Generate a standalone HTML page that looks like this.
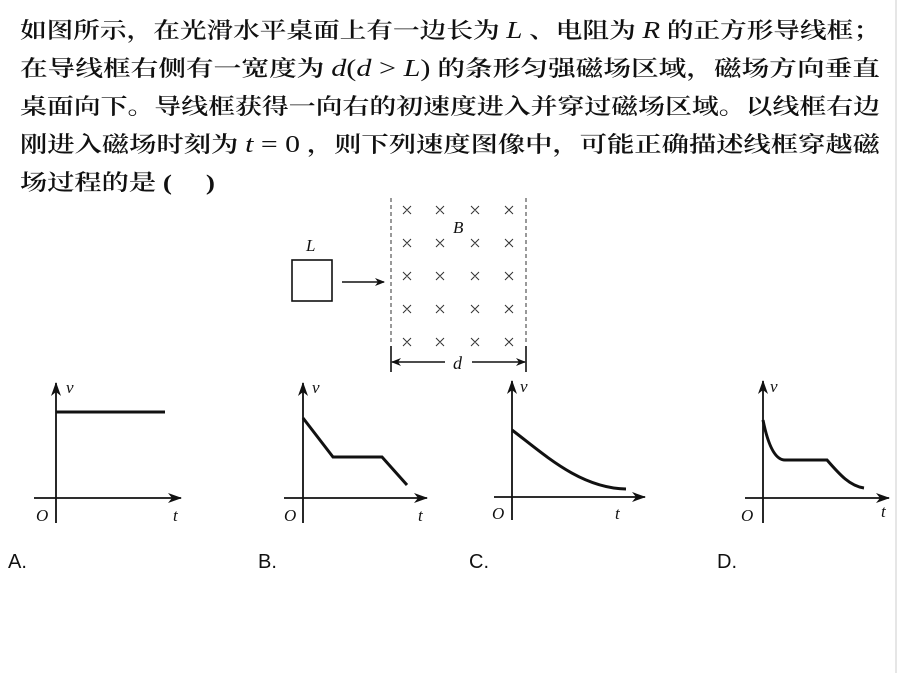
<!DOCTYPE html>
<html><head><meta charset="utf-8"><style>
html,body{margin:0;padding:0;background:#fff;}
svg{display:block;}
.cn{font-family:"Liberation Serif","Noto Serif CJK SC",serif;font-size:22px;font-weight:600;fill:#111;}
.it{font-family:"Liberation Serif",serif;font-style:italic;fill:#111;}
.lb{font-family:"Liberation Sans",sans-serif;font-size:20px;fill:#111;}
</style></head><body>
<svg width="898" height="673" viewBox="0 0 898 673" xmlns="http://www.w3.org/2000/svg">
<defs>
<marker id="ah" markerWidth="10" markerHeight="10" refX="9" refY="5" orient="auto" markerUnits="userSpaceOnUse">
<path d="M0,1 L10,5 L0,9 L3,5 Z" fill="#111"/></marker>
<marker id="ah2" markerWidth="14" markerHeight="12" refX="13" refY="6" orient="auto" markerUnits="userSpaceOnUse">
<path d="M0,1 L14,6 L0,11 L4,6 Z" fill="#111"/></marker>
</defs>
<line x1="896" y1="0" x2="896" y2="673" stroke="#ccc" stroke-width="1"/>
<text class="cn" x="20" y="38" textLength="860" lengthAdjust="spacingAndGlyphs">如图所示，在光滑水平桌面上有一边长为 <tspan class="it" font-weight="normal" font-size="24">L</tspan> 、电阻为 <tspan class="it" font-weight="normal" font-size="24">R</tspan> 的正方形导线框；</text>
<text class="cn" x="20" y="76" textLength="860" lengthAdjust="spacingAndGlyphs">在导线框右侧有一宽度为 <tspan class="it" font-weight="normal" font-size="24">d</tspan><tspan font-weight="normal" font-size="24">(</tspan><tspan class="it" font-weight="normal" font-size="24">d</tspan><tspan font-weight="normal" font-size="24"> &gt; </tspan><tspan class="it" font-weight="normal" font-size="24">L</tspan><tspan font-weight="normal" font-size="24">)</tspan> 的条形匀强磁场区域，磁场方向垂直</text>
<text class="cn" x="20" y="114" textLength="860" lengthAdjust="spacingAndGlyphs">桌面向下。导线框获得一向右的初速度进入并穿过磁场区域。以线框右边</text>
<text class="cn" x="20" y="152" textLength="860" lengthAdjust="spacingAndGlyphs">刚进入磁场时刻为 <tspan class="it" font-weight="normal" font-size="24">t</tspan><tspan font-weight="normal" font-size="24"> = 0</tspan> ，则下列速度图像中，可能正确描述线框穿越磁</text>
<text class="cn" x="20" y="190" textLength="195" lengthAdjust="spacingAndGlyphs">场过程的是 (　 )</text>

<rect x="292" y="260" width="40" height="41" fill="none" stroke="#111" stroke-width="1.6"/>
<text class="it" x="306" y="251" font-size="17">L</text>
<line x1="342" y1="282" x2="384" y2="282" stroke="#111" stroke-width="1.6" marker-end="url(#ah)"/>
<line x1="391" y1="198" x2="391" y2="345" stroke="#333" stroke-width="1" stroke-dasharray="4,3"/>
<line x1="526" y1="198" x2="526" y2="345" stroke="#333" stroke-width="1" stroke-dasharray="4,3"/>
<g stroke="#333" stroke-width="1">
<path d="M403,206l8,8M411,206l-8,8 M436,206l8,8M444,206l-8,8 M471,206l8,8M479,206l-8,8 M505,206l8,8M513,206l-8,8"/>
<path d="M403,239l8,8M411,239l-8,8 M436,239l8,8M444,239l-8,8 M471,239l8,8M479,239l-8,8 M505,239l8,8M513,239l-8,8"/>
<path d="M403,272l8,8M411,272l-8,8 M436,272l8,8M444,272l-8,8 M471,272l8,8M479,272l-8,8 M505,272l8,8M513,272l-8,8"/>
<path d="M403,305l8,8M411,305l-8,8 M436,305l8,8M444,305l-8,8 M471,305l8,8M479,305l-8,8 M505,305l8,8M513,305l-8,8"/>
<path d="M403,338l8,8M411,338l-8,8 M436,338l8,8M444,338l-8,8 M471,338l8,8M479,338l-8,8 M505,338l8,8M513,338l-8,8"/>
</g>
<text class="it" x="453" y="233" font-size="17">B</text>
<line x1="391" y1="346" x2="391" y2="372" stroke="#111" stroke-width="1.6"/>
<line x1="526" y1="346" x2="526" y2="372" stroke="#111" stroke-width="1.6"/>
<line x1="445" y1="362" x2="392" y2="362" stroke="#111" stroke-width="1.5" marker-end="url(#ah)"/>
<line x1="472" y1="362" x2="525" y2="362" stroke="#111" stroke-width="1.5" marker-end="url(#ah)"/>
<text class="it" x="453" y="369" font-size="18">d</text>

<g stroke="#111" stroke-width="1.8" fill="none">
<line x1="56" y1="523" x2="56" y2="383" marker-end="url(#ah2)"/>
<line x1="34" y1="498" x2="181" y2="498" marker-end="url(#ah2)"/>
<line x1="303" y1="523" x2="303" y2="383" marker-end="url(#ah2)"/>
<line x1="284" y1="498" x2="427" y2="498" marker-end="url(#ah2)"/>
<line x1="512" y1="520" x2="512" y2="381" marker-end="url(#ah2)"/>
<line x1="494" y1="497" x2="645" y2="497" marker-end="url(#ah2)"/>
<line x1="763" y1="523" x2="763" y2="381" marker-end="url(#ah2)"/>
<line x1="745" y1="498" x2="889" y2="498" marker-end="url(#ah2)"/>
</g>
<g stroke="#111" stroke-width="3" fill="none">
<line x1="56" y1="412" x2="165" y2="412"/>
<polyline points="303,418 333,457 382,457 407,485"/>
<path d="M512,430 C545,455 580,488 626,489"/>
<path d="M763,420 C768,445 775,460 785,460 L827,460 C840,475 850,486 864,488"/>
</g>
<g class="it" font-size="17">
<text x="66" y="393">v</text><text x="36" y="521">O</text><text x="173" y="521">t</text>
<text x="312" y="393">v</text><text x="284" y="521">O</text><text x="418" y="521">t</text>
<text x="520" y="392">v</text><text x="492" y="519">O</text><text x="615" y="519">t</text>
<text x="770" y="392">v</text><text x="741" y="521">O</text><text x="881" y="517">t</text>
</g>
<text class="lb" x="8" y="568">A.</text>
<text class="lb" x="258" y="568">B.</text>
<text class="lb" x="469" y="568">C.</text>
<text class="lb" x="717" y="568">D.</text>
</svg>
</body></html>
